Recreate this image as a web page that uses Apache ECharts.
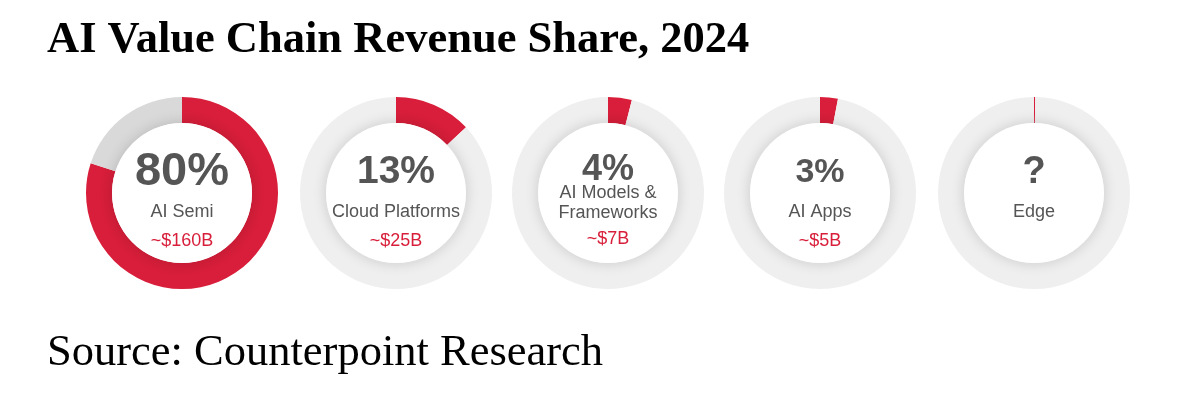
<!DOCTYPE html>
<html>
<head>
<meta charset="utf-8">
<title>AI Value Chain Revenue Share, 2024</title>
<script src="https://cdn.jsdelivr.net/npm/echarts@6/dist/echarts.min.js"></script>
<style>
  html, body { margin: 0; padding: 0; background: #fff; }
  #chart { width: 1179px; height: 399px; }
</style>
</head>
<body>
<div id="chart"></div>
<script>
// segments of the AI value chain
var categories = ["AI Semi", "Cloud Platforms", "AI Models &\nFrameworks", "AI Apps", "Edge"];
// share of 2024 revenue in % (Edge is unknown, only a hairline is shown)
var shares = [80, 13, 4, 3, 0.2];
var shareLabels = ["80%", "13%", "4%", "3%", "?"];
var revenueLabels = ["~$160B", "~$25B", "~$7B", "~$5B", ""];

// look
var red = "#d81e3a";
var restColors = ["#d9d9d9", "#efefef", "#efefef", "#efefef", "#efefef"];
var centersX = [182, 396, 608, 820, 1034];
var centerY = 193;
var pctSizes = [47, 39, 36, 34, 38];

var chart = echarts.init(document.getElementById("chart"));

var series = [];
for (var i = 0; i < categories.length; i++) {
  // the ring
  series.push({
    type: "pie",
    silent: true,
    center: [centersX[i], centerY],
    radius: [70, 96],
    startAngle: 90,
    clockwise: true,
    label: { show: false },
    labelLine: { show: false },
    itemStyle: { borderWidth: 0 },
    data: [
      { name: categories[i], value: shares[i], itemStyle: { color: red } },
      { name: "rest", value: 100 - shares[i], itemStyle: { color: restColors[i] } }
    ]
  });

  // white inner disc carrying the texts
  var twoLines = categories[i].indexOf("\n") >= 0;
  var nameText = categories[i].split("\n").map(function (s) {
    return "{name|" + s + "}";
  }).join("\n");
  var fmt = "{pct|" + shareLabels[i] + "}\n" + nameText + "\n{val|" + (revenueLabels[i] || " ") + "}";

  series.push({
    type: "pie",
    silent: true,
    center: [centersX[i], centerY],
    radius: [0, 70],
    z: 3,
    labelLine: { show: false },
    itemStyle: {
      color: "#ffffff",
      borderWidth: 0,
      shadowBlur: 14,
      shadowColor: "rgba(0,0,0,0.16)"
    },
    label: {
      show: true,
      position: "center",
      formatter: fmt,
      offset: [0, twoLines ? 13.5 : 9],
      rich: {
        pct: {
          fontFamily: "Liberation Sans",
          fontWeight: "bold",
          fontSize: pctSizes[i],
          color: "#555555",
          lineHeight: twoLines ? 26 : 53
        },
        name: {
          fontFamily: "Liberation Sans",
          fontSize: 18,
          color: "#555555",
          lineHeight: twoLines ? 20 : 26
        },
        val: {
          fontFamily: "Liberation Sans",
          fontSize: 18,
          color: red,
          lineHeight: twoLines ? 32 : 33
        }
      }
    },
    data: [{ name: categories[i], value: 1 }]
  });
}

var option = {
  animation: false,
  backgroundColor: "#ffffff",
  title: [
    {
      text: "AI Value Chain Revenue Share, 2024",
      left: 47,
      top: 18,
      padding: 0,
      textStyle: {
        fontFamily: "Liberation Serif",
        fontWeight: "bold",
        fontSize: 44.5,
        color: "#000000"
      }
    },
    {
      text: "Source: Counterpoint Research",
      left: 47,
      top: 331,
      padding: 0,
      textStyle: {
        fontFamily: "Liberation Serif",
        fontWeight: "normal",
        fontSize: 44.5,
        color: "#000000"
      }
    }
  ],
  series: series
};

chart.setOption(option);
</script>
</body>
</html>
